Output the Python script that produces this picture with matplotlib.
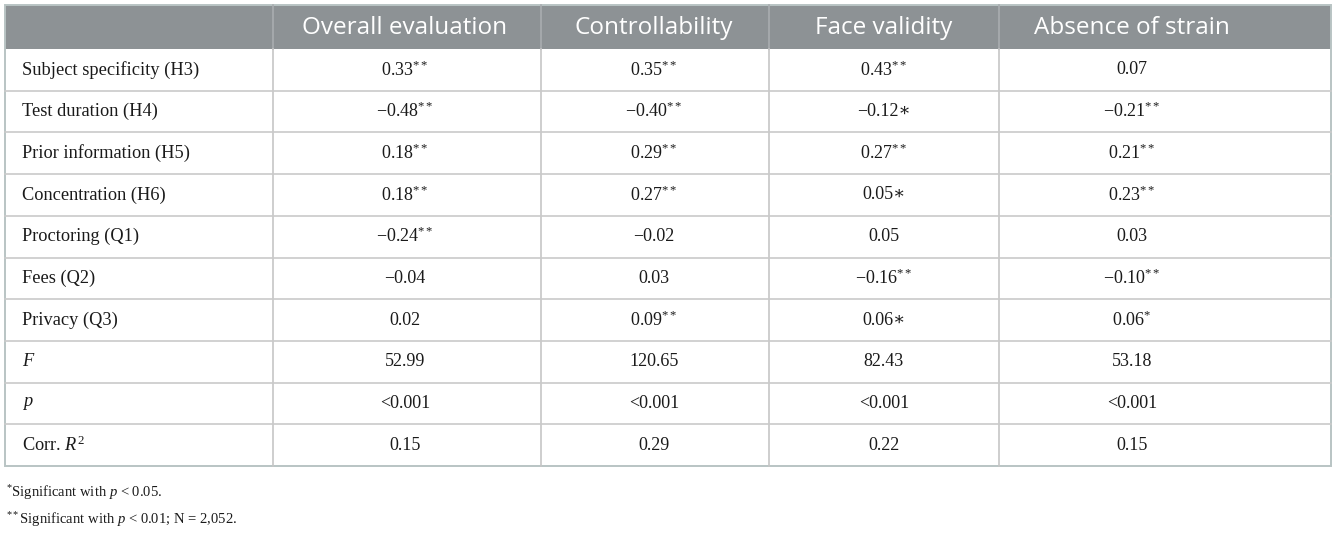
import matplotlib
matplotlib.use('Agg')
import matplotlib.pyplot as plt
from matplotlib.patches import Rectangle

plt.rcParams['mathtext.fontset'] = 'custom'
plt.rcParams['mathtext.rm'] = 'Liberation Serif'
plt.rcParams['mathtext.it'] = 'Liberation Serif:italic'
plt.rcParams['mathtext.bf'] = 'Liberation Serif:bold'

columns = ['Overall evaluation', 'Controllability', 'Face validity', 'Absence of strain']
rows = ['Subject specificity (H3)', 'Test duration (H4)', 'Prior information (H5)',
        'Concentration (H6)', 'Proctoring (Q1)', 'Fees (Q2)', 'Privacy (Q3)',
        '$F$', '$p$', 'Corr. $R^{2}$']
overall = ['0.33**', '\u22120.48**', '0.18**', '0.18**', '\u22120.24**', '\u22120.04', '0.02',
           '52.99', '<0.001', '0.15']
controllability = ['0.35**', '\u22120.40**', '0.29**', '0.27**', '\u22120.02', '0.03', '0.09**',
                   '120.65', '<0.001', '0.29']
face_validity = ['0.43**', '\u22120.12\u2217', '0.27**', '0.05\u2217', '0.05', '\u22120.16**', '0.06\u2217',
                 '82.43', '<0.001', '0.22']
absence_of_strain = ['0.07', '\u22120.21**', '0.21**', '0.23**', '0.03', '\u22120.10**', '0.06*',
                     '53.18', '<0.001', '0.15']
footnotes = ['$^{*}$Significant with $p$ < 0.05.',
             '$^{**}$Significant with $p$ < 0.01; N = 2,052.']

values = [overall, controllability, face_validity, absence_of_strain]

# layout in pixels
W, H = 1337, 537
col_edges = [5, 273, 541, 769, 999, 1331]
text_x = [405, 654, 884, 1132]
top, head_bot, row_h = 5, 49, 41.7
serif = ['Liberation Serif', 'DejaVu Serif']


def fmt(s):
    # superscript ascii stars, leave the math-asterisk glyph alone
    if s.endswith('**'):
        return s[:-2] + '$^{**}$'
    if s.endswith('*'):
        return s[:-1] + '$^{*}$'
    return s


fig = plt.figure(figsize=(W / 100, H / 100), dpi=100)
ax = fig.add_axes([0, 0, 1, 1])
ax.set_xlim(0, W)
ax.set_ylim(H, 0)
ax.axis('off')

n = len(rows)
bottom = head_bot + n * row_h

# header band
ax.add_patch(Rectangle((col_edges[0], top), col_edges[-1] - col_edges[0], head_bot - top,
                       facecolor='#8d9295', edgecolor='none'))
for x in col_edges[1:-1]:
    ax.plot([x, x], [top, head_bot], color='#a9adb0', lw=1.2)
    ax.plot([x, x], [head_bot, bottom], color='#c6c6c6', lw=1.2)
for i in range(1, n):
    y = head_bot + i * row_h
    ax.plot([col_edges[0], col_edges[-1]], [y, y], color='#cacaca', lw=1.2)

# outer border
ax.add_patch(Rectangle((col_edges[0], top), col_edges[-1] - col_edges[0], bottom - top,
                       facecolor='none', edgecolor='#b9c4c4', lw=1.4))

for j, c in enumerate(columns):
    ax.text(text_x[j], (top + head_bot) / 2 + 1, c, ha='center', va='center',
            color='white', fontsize=17.5, family='Open Sans')

for i, r in enumerate(rows):
    yc = head_bot + (i + 0.5) * row_h
    ax.text(22, yc, r, ha='left', va='center', fontsize=13.2, family=serif, color='#1a1a1a')
    for j in range(len(columns)):
        ax.text(text_x[j], yc, fmt(values[j][i]), ha='center', va='center',
                fontsize=13, family=serif, color='#1a1a1a')

for k, f in enumerate(footnotes):
    ax.text(6, 493 + k * 27, f, ha='left', va='center', fontsize=10.5, family=serif, color='#1a1a1a')

fig.savefig('out.png', dpi=100, facecolor='white')
